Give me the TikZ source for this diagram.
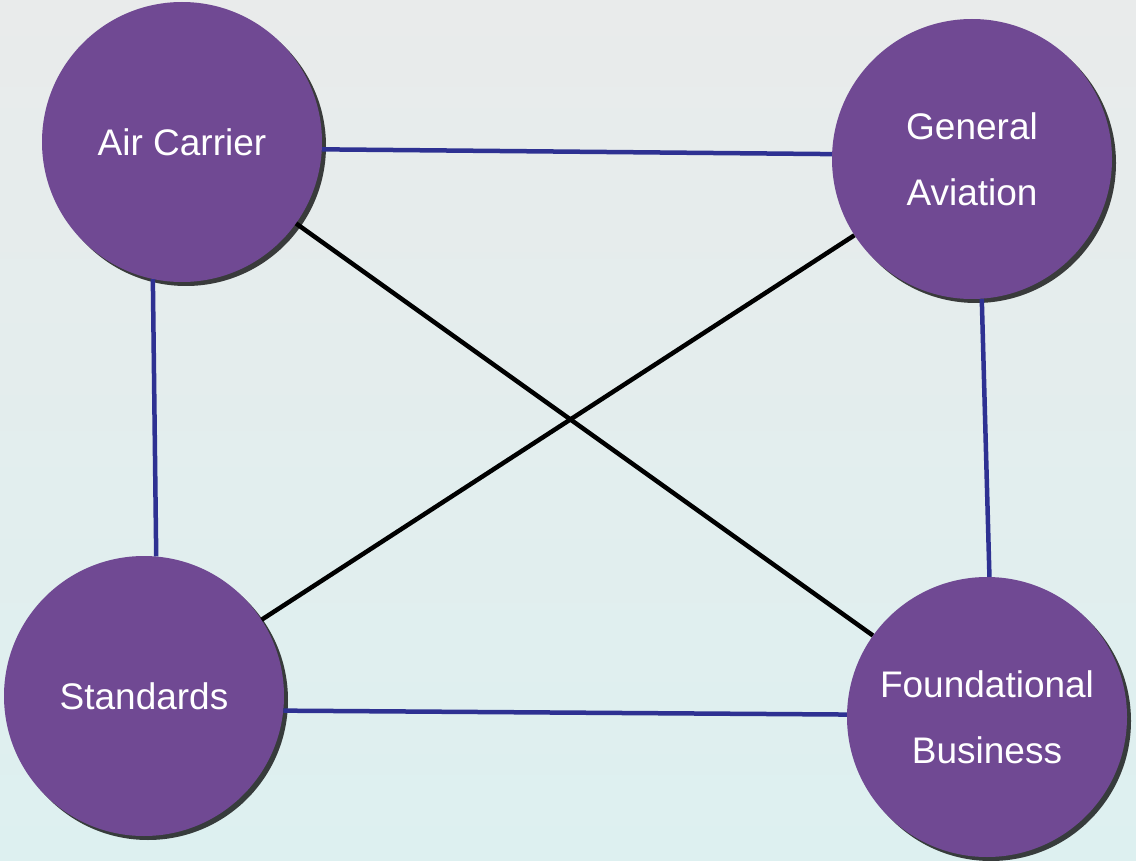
\documentclass[tikz,border=0pt]{standalone}
\usepackage{fontspec}
\setmainfont{Liberation Sans}
\usetikzlibrary{shadows}
\definecolor{bgtop}{RGB}{233,235,235}
\definecolor{bgbottom}{RGB}{221,240,240}
\definecolor{areapurple}{RGB}{112,73,147}
\definecolor{linkblue}{RGB}{46,49,146}
\tikzset{
  area/.style={circle,fill=areapurple,minimum size=280pt,inner sep=0pt,
    text=white,align=center,font=\fontsize{37}{66}\selectfont,
    drop shadow={shadow xshift=4pt,shadow yshift=-4pt,fill=black,opacity=0.75}},
  bluelink/.style={draw=linkblue,line width=4.5pt},
  blacklink/.style={draw=black,line width=4.5pt}
}
\begin{document}
\begin{tikzpicture}[x=1pt,y=1pt,yscale=-1,xscale=1]
%Background
\shade[top color=bgtop,bottom color=bgbottom] (0,0) rectangle (1136,861);
\useasboundingbox (0,0) rectangle (1136,861);

%Shape: Circle [Air Carrier]
\node [area] (ac) at (182,142) {Air Carrier};
%Shape: Circle [General Aviation]
\node [area] (ga) at (972,159) {General\\Aviation};
%Shape: Circle [Standards]
\node [area] (st) at (144,696) {Standards};
%Shape: Circle [Foundational Business]
\node [area] (fb) at (987,717) {Foundational\\Business};

%Straight Lines
\draw [bluelink] (ac.-3) -- (ga.178);
\draw [bluelink] (ac.258) -- (st.85.5);
\draw [bluelink] (st.-6.5) -- (fb.179);
\draw [bluelink] (ga.274.5) -- (fb.89);
\draw [blacklink] (ac) -- (fb);
\draw [blacklink] (ga) -- (st);

\end{tikzpicture}
\end{document}
